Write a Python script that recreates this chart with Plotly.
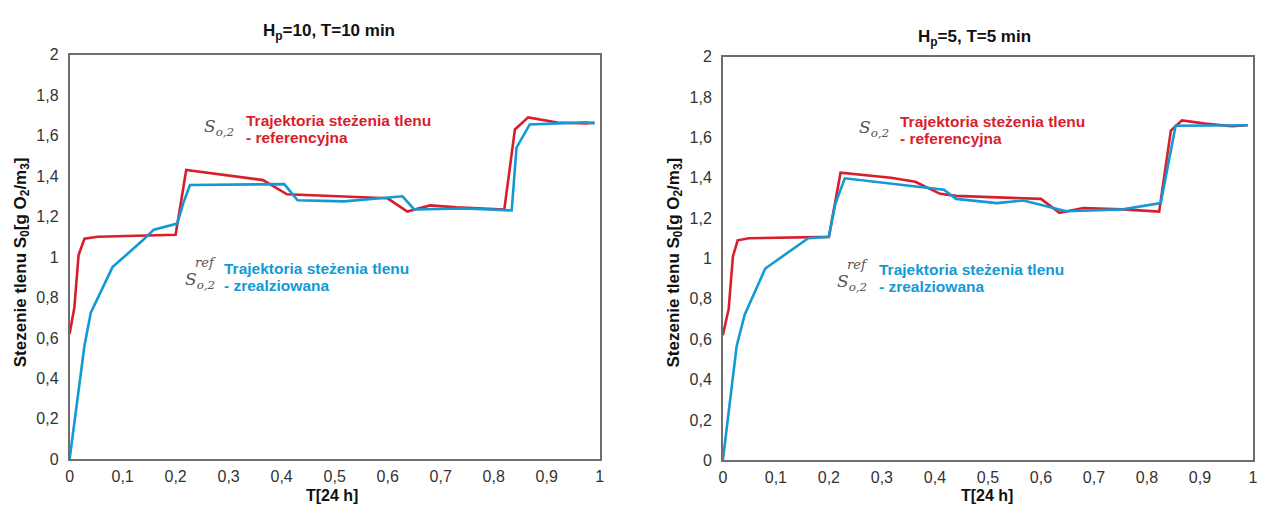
import plotly.graph_objects as go

# ---- data ----
# Left panel: Hp=10, T=10 min
t_ref_L = [0.0, 0.009, 0.017, 0.028, 0.053, 0.20, 0.22, 0.31, 0.365, 0.41, 0.50, 0.60, 0.637, 0.68, 0.73, 0.82, 0.84, 0.865, 0.92, 0.975, 0.99]
s_ref_L = [0.62, 0.75, 1.01, 1.09, 1.10, 1.11, 1.43, 1.40, 1.38, 1.31, 1.30, 1.29, 1.225, 1.255, 1.245, 1.235, 1.63, 1.69, 1.665, 1.66, 1.665]
t_real_L = [0.0, 0.028, 0.04, 0.081, 0.137, 0.159, 0.203, 0.215, 0.227, 0.405, 0.43, 0.518, 0.628, 0.65, 0.747, 0.834, 0.843, 0.868, 0.975, 0.99]
s_real_L = [0.0, 0.56, 0.725, 0.95, 1.08, 1.135, 1.165, 1.27, 1.356, 1.36, 1.28, 1.275, 1.30, 1.235, 1.24, 1.23, 1.54, 1.655, 1.665, 1.66]

# Right panel: Hp=5, T=5 min
t_ref_R = [0.0, 0.011, 0.019, 0.028, 0.049, 0.20, 0.222, 0.317, 0.363, 0.41, 0.44, 0.60, 0.635, 0.68, 0.754, 0.823, 0.845, 0.866, 0.91, 0.96, 0.99]
s_ref_R = [0.62, 0.75, 1.01, 1.09, 1.10, 1.107, 1.425, 1.40, 1.38, 1.32, 1.31, 1.295, 1.226, 1.25, 1.243, 1.232, 1.633, 1.684, 1.668, 1.655, 1.66]
t_real_R = [0.0, 0.026, 0.041, 0.08, 0.161, 0.20, 0.212, 0.23, 0.417, 0.44, 0.517, 0.567, 0.648, 0.754, 0.826, 0.854, 0.99]
s_real_R = [0.0, 0.565, 0.72, 0.95, 1.10, 1.107, 1.27, 1.397, 1.34, 1.295, 1.274, 1.287, 1.234, 1.243, 1.274, 1.657, 1.66]

x_ticks = [0, 0.1, 0.2, 0.3, 0.4, 0.5, 0.6, 0.7, 0.8, 0.9, 1]
x_labels = ["0", "0,1", "0,2", "0,3", "0,4", "0,5", "0,6", "0,7", "0,8", "0,9", "1"]
y_ticks = [0, 0.2, 0.4, 0.6, 0.8, 1, 1.2, 1.4, 1.6, 1.8, 2]
y_labels = ["0", "0,2", "0,4", "0,6", "0,8", "1", "1,2", "1,4", "1,6", "1,8", "2"]

titles = ["H<sub>p</sub>=10, T=10 min", "H<sub>p</sub>=5, T=5 min"]
y_title = "Stezenie tlenu S<sub>0</sub>[g O<sub>2</sub>/m<sub>3</sub>]"
x_title = "T[24 h]"
line_1 = "Trajektoria steżenia tlenu"
ref_line_2 = "- referencyjna"
real_line_2 = "- zrealziowana"

RED = "#d81e2c"
BLUE = "#119ad6"
PAGE_W, PAGE_H = 1267, 515
OFF = 8  # default page body margin
W, H = PAGE_W - 2 * OFF, PAGE_H - 2 * OFF
FONT = "Liberation Sans, Arial, sans-serif"
SERIF = "DejaVu Serif, Liberation Serif, serif"

fig = go.Figure()
fig.add_trace(go.Scatter(x=t_ref_L, y=s_ref_L, mode="lines", line=dict(color=RED, width=2.6), xaxis="x", yaxis="y"))
fig.add_trace(go.Scatter(x=t_real_L, y=s_real_L, mode="lines", line=dict(color=BLUE, width=2.6), xaxis="x", yaxis="y"))
fig.add_trace(go.Scatter(x=t_ref_R, y=s_ref_R, mode="lines", line=dict(color=RED, width=2.6), xaxis="x2", yaxis="y2"))
fig.add_trace(go.Scatter(x=t_real_R, y=s_real_R, mode="lines", line=dict(color=BLUE, width=2.6), xaxis="x2", yaxis="y2"))

def px_x(p):
    return (p - OFF) / W

def px_y(p):
    return 1 - (p - OFF) / H

axis_common = dict(
    showgrid=False, zeroline=False, showline=True, mirror=True,
    linecolor="#6e6e6e", linewidth=1.6,
    ticks="outside", tickcolor="rgba(0,0,0,0)",
    tickfont=dict(family=FONT, size=16, color="#333333"),
    fixedrange=True,
)

panels = [
    dict(x0=66, x1=600, y0=48, y1=467),
    dict(x0=724, x1=1258, y0=50, y1=468),
]

layout = dict(
    width=W, height=H,
    margin=dict(l=0, r=0, t=0, b=0),
    paper_bgcolor="white", plot_bgcolor="white",
    showlegend=False,
)
for i, p in enumerate(panels):
    sx = "" if i == 0 else "2"
    layout["xaxis" + sx] = dict(axis_common, domain=[px_x(p["x0"]), px_x(p["x1"])],
                                range=[0, 1], tickvals=x_ticks, ticktext=x_labels,
                                ticklen=2, anchor="y" + sx)
    layout["yaxis" + sx] = dict(axis_common, domain=[px_y(p["y1"]), px_y(p["y0"])],
                                range=[0, 2], tickvals=y_ticks, ticktext=y_labels,
                                ticklen=6, anchor="x" + sx)
fig.update_layout(**layout)

ann = []

def add(text, x, y, size, color, family=FONT, xanchor="center", angle=0):
    ann.append(dict(text=text, x=px_x(x), y=px_y(y), xref="paper", yref="paper",
                    showarrow=False, xanchor=xanchor, yanchor="middle", textangle=angle,
                    align="left", font=dict(family=family, size=size, color=color)))

conf = [
    dict(title=(327, 25), ytitle=(18, 263), xtitle=(330, 504),
         s1=(217, 123), t1=(242, 116), t1b=(242, 134), s2=(197, 282), sref=(203, 263),
         t2=(220, 269), t2b=(220, 287)),
    dict(title=(977, 31), ytitle=(676, 263), xtitle=(990, 504),
         s1=(876, 124), t1=(900, 117), t1b=(900, 135), s2=(854, 284), sref=(860, 265),
         t2=(879, 270), t2b=(879, 288)),
]
for i, c in enumerate(conf):
    add("<b>" + titles[i] + "</b>", *c["title"], 17, "#111111")
    add("<b>" + y_title + "</b>", *c["ytitle"], 17, "#111111", angle=-90)
    add("<b>" + x_title + "</b>", *c["xtitle"], 16, "#111111")
    add("<i>S</i><sub><i>o,2</i></sub>", *c["s1"], 17, "#555555", family=SERIF)
    add("<b>" + line_1 + "</b>", *c["t1"], 15.5, RED, xanchor="left")
    add("<b>" + ref_line_2 + "</b>", *c["t1b"], 15.5, RED, xanchor="left")
    add("<i>S</i><sub><i>o,2</i></sub>", *c["s2"], 17, "#555555", family=SERIF)
    add("<i>ref</i>", *c["sref"], 13, "#555555", family=SERIF)
    add("<b>" + line_1 + "</b>", *c["t2"], 15.5, BLUE, xanchor="left")
    add("<b>" + real_line_2 + "</b>", *c["t2b"], 15.5, BLUE, xanchor="left")
fig.update_layout(annotations=ann)

fig.write_html("out.html", config={"displayModeBar": False})
